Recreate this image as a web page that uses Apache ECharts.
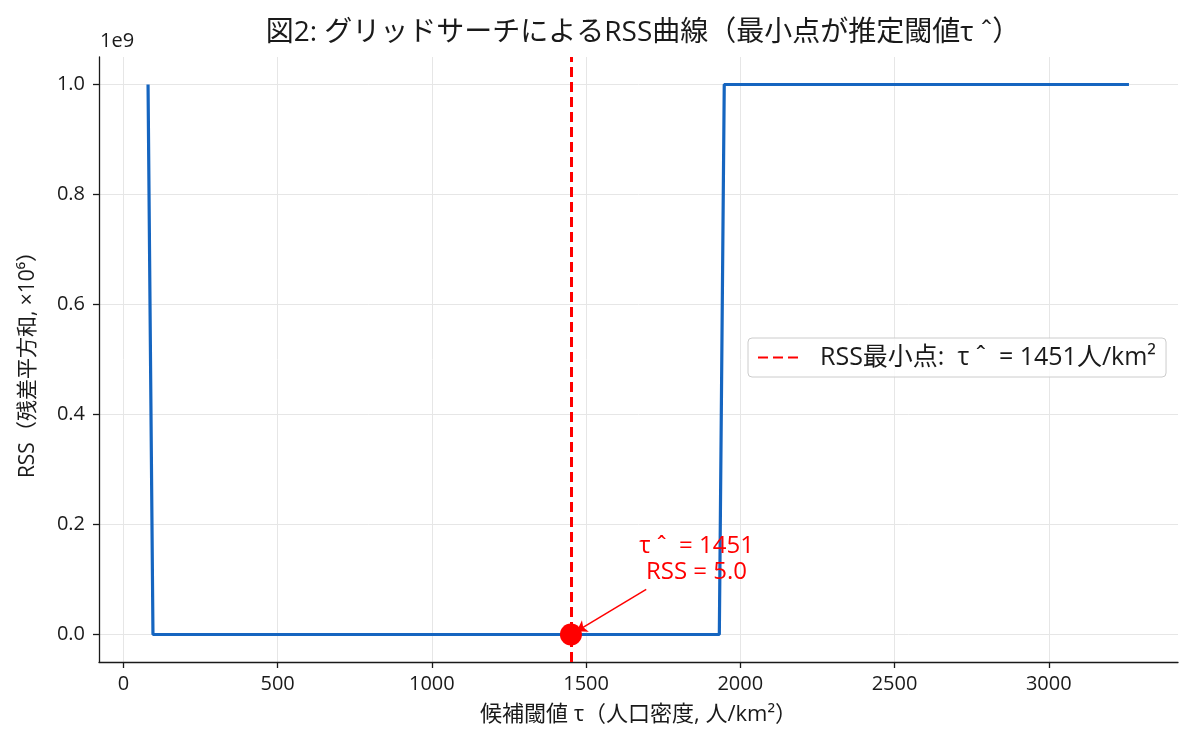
<!DOCTYPE html>
<html>
<head>
<meta charset="utf-8">
<script src="https://cdn.jsdelivr.net/npm/echarts@6/dist/echarts.min.js"></script>
<style>
  html, body { margin: 0; padding: 0; background: #fff; }
  #chart { width: 1200px; height: 750px; }
</style>
</head>
<body>
<div id="chart"></div>
<script>
// grid search result (candidate tau -> RSS)
const tauGrid = [80, 96, 1451, 1932, 1948, 3260]
const rssValues = [1e9, 0, 5, 0, 1e9, 1e9]
const tauHat = 1451
const rssMin = 5.0

const xTicks = [0, 500, 1000, 1500, 2000, 2500, 3000]
const yTicks = [0, 2e8, 4e8, 6e8, 8e8, 1e9]
const xRange = [-79, 3419]
const yRange = [-0.05e9, 1.05e9]

const font = '"Open Sans", "Noto Sans CJK JP", sans-serif'
const ink = '#1a1a1a'
const gridColor = '#e6e6e6'

const chart = echarts.init(document.getElementById('chart'))

const curve = tauGrid.map((t, i) => [t, rssValues[i]])
const legendName = 'RSS最小点:  τ ˆ  = ' + tauHat + '人/km²'

const axisCommon = {
  type: 'value',
  nameLocation: 'middle',
  nameTextStyle: { fontSize: 21, color: ink, fontFamily: font },
  axisLine: { show: true, onZero: false, lineStyle: { color: ink, width: 1.3 } },
  splitLine: { show: true, lineStyle: { color: gridColor, width: 1 } }
}

const option = {
  backgroundColor: '#fff',
  animation: false,
  textStyle: { fontFamily: font },
  title: {
    text: '図2: グリッドサーチによるRSS曲線（最小点が推定閾値τ ˆ）',
    left: 638,
    top: 14,
    textAlign: 'center',
    textStyle: { fontSize: 28, fontWeight: 'normal', color: ink, fontFamily: font }
  },
  grid: { left: 99, right: 22, top: 57, bottom: 88 },
  legend: {
    data: [legendName],
    left: 748,
    top: 338,
    padding: [7, 10, 7, 9],
    itemWidth: 45,
    itemHeight: 14,
    itemStyle: { opacity: 0 },
    borderColor: '#cccccc',
    borderWidth: 1,
    borderRadius: 4,
    backgroundColor: 'rgba(255,255,255,0.8)',
    textStyle: { fontSize: 25, color: ink, fontFamily: font, padding: [0, 0, 0, 12] }
  },
  xAxis: Object.assign({}, axisCommon, {
    min: xRange[0],
    max: xRange[1],
    name: '候補閾値 τ（人口密度, 人/km²）',
    nameGap: 42,
    nameTextStyle: { fontSize: 22, color: ink, fontFamily: font },
    axisTick: { show: true, length: 6, customValues: xTicks, lineStyle: { color: ink, width: 1.3 } },
    axisLabel: { fontSize: 20, color: ink, margin: 12, customValues: xTicks, formatter: v => String(v) }
  }),
  yAxis: Object.assign({}, axisCommon, {
    min: yRange[0],
    max: yRange[1],
    name: 'RSS（残差平方和, ×10⁶）',
    nameGap: 60,
    axisTick: { show: true, length: 6, customValues: yTicks, lineStyle: { color: ink, width: 1.3 } },
    axisLabel: { fontSize: 20, color: ink, margin: 14, customValues: yTicks, formatter: v => (v / 1e9).toFixed(1) }
  }),
  graphic: [{
    type: 'text',
    left: 100,
    top: 31,
    style: { text: '1e9', fontSize: 20, fill: ink, fontFamily: font }
  }],
  series: [
    {
      name: 'RSS',
      type: 'line',
      data: curve,
      showSymbol: false,
      symbol: 'none',
      lineStyle: { color: '#1565c0', width: 3.2 },
      z: 3
    },
    {
      name: legendName,
      type: 'line',
      data: [],
      symbol: 'none',
      showSymbol: false,
      itemStyle: { color: '#ff0000' },
      lineStyle: { color: '#ff0000', width: 3, type: [10, 5] },
      markLine: {
        silent: true,
        symbol: ['none', 'none'],
        label: { show: false },
        lineStyle: { color: '#ff0000', width: 3, type: [10, 5] },
        data: [{ xAxis: tauHat }]
      },
      z: 4
    },
    {
      name: 'min',
      type: 'scatter',
      data: [[tauHat, rssMin]],
      symbolSize: 22,
      itemStyle: { color: '#ff0000', opacity: 1 },
      z: 6,
      markLine: {
        silent: true,
        symbol: ['none', 'arrow'],
        symbolSize: 10,
        label: { show: false },
        lineStyle: { color: '#ff0000', width: 1.5, type: 'solid' },
        data: [[{ coord: [1695, 0.082e9] }, { coord: [1470, 0.006e9] }]]
      },
      markPoint: {
        silent: true,
        symbol: 'circle',
        symbolSize: 0,
        label: {
          show: true,
          color: '#ff0000',
          fontSize: 24,
          lineHeight: 26,
          align: 'center',
          fontFamily: font,
          formatter: 'τ ˆ  = ' + tauHat + '\nRSS = ' + rssMin.toFixed(1)
        },
        data: [{ coord: [1858, 0.137e9] }]
      }
    }
  ]
}

chart.setOption(option)
</script>
</body>
</html>
